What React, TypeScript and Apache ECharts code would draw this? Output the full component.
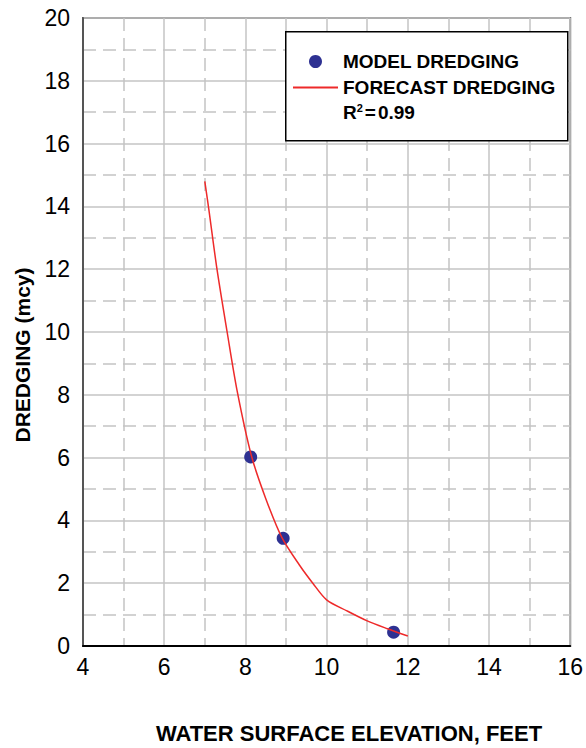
import React, { useEffect, useRef } from "react";
import * as echarts from "echarts";

const modelX = [8.13, 8.93, 11.65];
const modelY = [6.02, 3.43, 0.44];

const curveX = [7.0, 7.1, 7.3, 7.55, 7.8, 8.15, 8.5, 8.9, 9.33, 9.66, 10.0, 10.5, 11.0, 11.5, 12.0];
const curveY = [14.8, 13.9, 12.0, 10.0, 8.1, 6.05, 4.7, 3.45, 2.58, 2.0, 1.47, 1.12, 0.8, 0.55, 0.32];

const seriesNames = ["MODEL DREDGING", "FORECAST DREDGING"];
const xTitle = "WATER SURFACE ELEVATION, FEET";
const yTitle = "DREDGING (mcy)";
const r2Text = "0.99";

const FONT = "Liberation Sans, Arial, sans-serif";

export default function App() {
  const ref = useRef<HTMLDivElement>(null);
  useEffect(() => {
    if (!ref.current) return;
    const chart = echarts.init(ref.current, null, { renderer: "svg" });
    const gridColor = "#c4c4c4";
    chart.setOption({
      animation: false,
      backgroundColor: "#ffffff",
      textStyle: { fontFamily: FONT },
      grid: {
        left: 83,
        top: 18,
        right: 15,
        bottom: 102,
        show: true,
        borderColor: "#6a6a6a",
        borderWidth: 2,
        backgroundColor: "transparent",
      },
      xAxis: {
        type: "value",
        min: 4,
        max: 16,
        interval: 2,
        axisLine: { show: true, lineStyle: { color: "#000", width: 2 } },
        axisTick: { show: false },
        axisLabel: { color: "#000", fontSize: 23, fontFamily: FONT, margin: 9 },
        splitLine: { show: true, lineStyle: { color: gridColor, width: 1.5 } },
        minorTick: { show: false, splitNumber: 2 },
        minorSplitLine: { show: true, lineStyle: { color: gridColor, width: 1.5, type: [13, 7] } },
      },
      yAxis: {
        type: "value",
        min: 0,
        max: 20,
        interval: 2,
        axisLine: { show: true, lineStyle: { color: "#555", width: 2 } },
        axisTick: { show: false },
        axisLabel: { color: "#000", fontSize: 23, fontFamily: FONT, margin: 13 },
        splitLine: { show: true, lineStyle: { color: gridColor, width: 1.5 } },
        minorTick: { show: false, splitNumber: 2 },
        minorSplitLine: { show: true, lineStyle: { color: gridColor, width: 1.5, type: [13, 7] } },
      },
      legend: {
        orient: "vertical",
        left: 292,
        top: 52,
        z: 30,
        itemWidth: 45,
        itemHeight: 13,
        itemGap: 7,
        padding: 0,
        textStyle: { color: "#000", fontSize: 19, fontWeight: "bold", fontFamily: FONT },
        data: [
          { name: seriesNames[0] },
          { name: seriesNames[1], itemStyle: { opacity: 0 } },
        ],
      },
      graphic: [
        {
          type: "rect",
          left: 285,
          top: 31,
          shape: { width: 282, height: 109 },
          style: { fill: "#fff", stroke: "#000", lineWidth: 1.5 },
          z: 1,
        },
        {
          type: "text",
          left: 343,
          top: 102,
          z: 11,
          style: {
            text: "{b|R}{s|2}{e|=}{b|" + r2Text + "}",
            rich: {
              b: { fontSize: 19, fontWeight: "bold", fontFamily: FONT, fill: "#000", verticalAlign: "bottom" },
              e: { fontSize: 19, fontWeight: "bold", fontFamily: FONT, fill: "#000", verticalAlign: "bottom", padding: [0, 2, 0, 1] },
              s: { fontSize: 11, fontWeight: "bold", fontFamily: FONT, fill: "#000", verticalAlign: "top", padding: [0, 1, 9, 0] },
            },
          },
        },
        {
          type: "text",
          x: 349,
          y: 733,
          z: 11,
          style: {
            text: xTitle,
            fontSize: 22,
            fontWeight: "bold",
            fontFamily: FONT,
            fill: "#000",
            align: "center",
            verticalAlign: "middle",
          },
        },
        {
          type: "text",
          x: 22,
          y: 355,
          rotation: Math.PI / 2,
          z: 11,
          style: {
            text: yTitle,
            fontSize: 21,
            fontWeight: "bold",
            fontFamily: FONT,
            fill: "#000",
            align: "center",
            verticalAlign: "middle",
          },
        },
      ],
      series: [
        {
          name: seriesNames[0],
          type: "scatter",
          symbol: "circle",
          symbolSize: 13,
          itemStyle: { color: "#2e3192", opacity: 1 },
          data: modelX.map((x, i) => [x, modelY[i]]),
          z: 5,
        },
        {
          name: seriesNames[1],
          type: "line",
          symbol: "none",
          smooth: 0.3,
          lineStyle: { color: "#ee2a2a", width: 1.5 },
          itemStyle: { color: "#ee2a2a" },
          data: curveX.map((x, i) => [x, curveY[i]]),
          z: 6,
        },
      ],
    });
    return () => chart.dispose();
  }, []);
  return <div ref={ref} style={{ width: 586, height: 748, position: "absolute", left: 0, top: 0 }} />;
}
